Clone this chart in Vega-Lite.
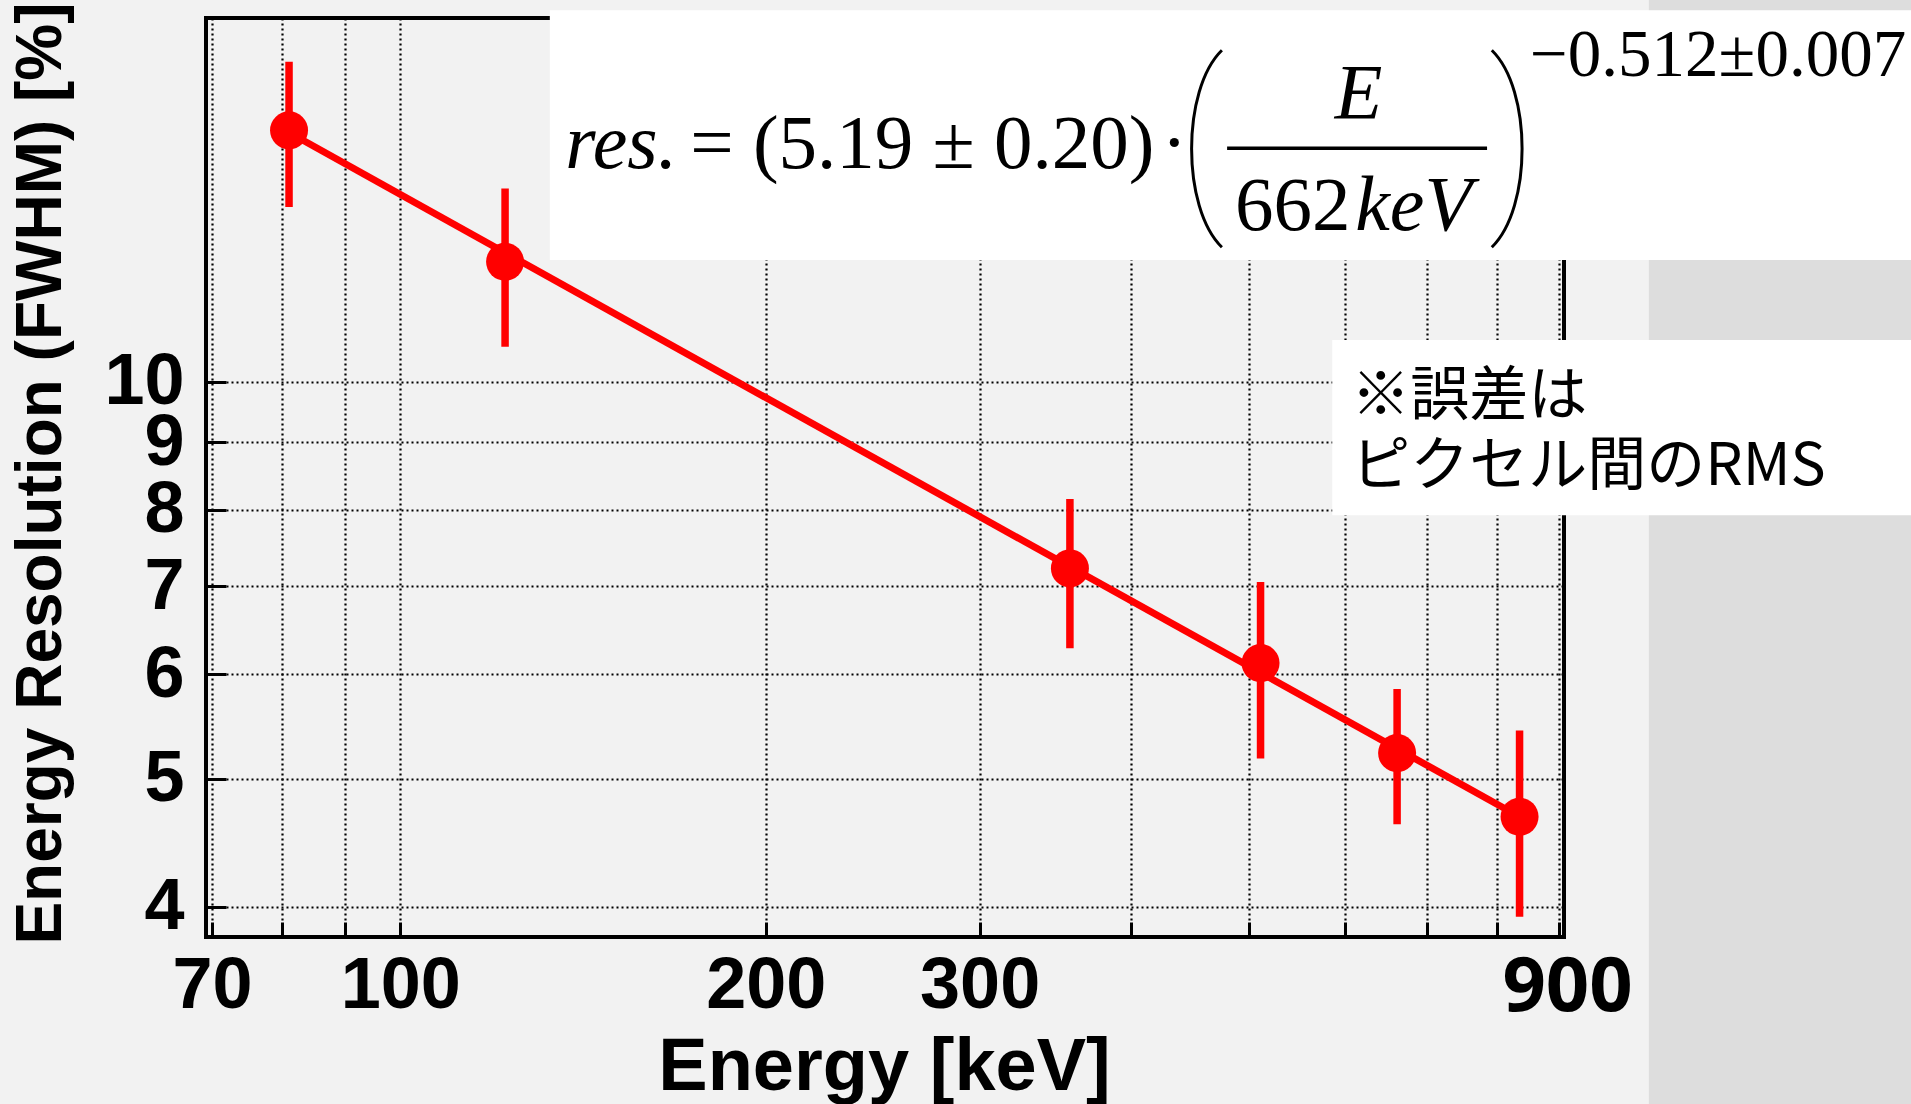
{
  "$schema": "https://vega.github.io/schema/vega-lite/v6.json",
  "width": 1358,
  "height": 919,
  "autosize": {"type": "none"},
  "padding": {"left": 206, "top": 18, "right": 347, "bottom": 167},
  "background": "#f2f2f2",
  "config": {
    "view": {"stroke": "black", "strokeWidth": 4, "fill": null}
  },
  "datasets": {
    "points": [
      {"E": 81, "R": 15.51, "lo": 13.57, "hi": 17.48},
      {"E": 122, "R": 12.33, "lo": 10.63, "hi": 14.01},
      {"E": 356, "R": 7.22, "lo": 6.28, "hi": 8.15},
      {"E": 511, "R": 6.12, "lo": 5.18, "hi": 7.05},
      {"E": 662, "R": 5.23, "lo": 4.62, "hi": 5.85},
      {"E": 835, "R": 4.68, "lo": 3.93, "hi": 5.44}
    ],
    "fit": [
      {"E": 81, "R": 15.45},
      {"E": 835, "R": 4.68}
    ],
    "strip": [{"x1": 1067, "x2": 3000, "y1": 1, "y2": 100}],
    "boxes": [
      {"x1": 132.8, "x2": 3000, "y1": 12.37, "y2": 19.13},
      {"x1": 585.4, "x2": 3000, "y1": 7.923, "y2": 10.755}
    ],
    "serif": [
      {"x": 173.3, "y": 14.52, "t": "= (5.19 ± 0.20)"},
      {"x": 423.6, "y": 14.52, "t": "·"},
      {"x": 486.9, "y": 13.03, "t": "662"}
    ],
    "italic": [
      {"x": 136.75, "y": 14.52, "t": "res."},
      {"x": 588.2, "y": 15.84, "t": "E"},
      {"x": 611.4, "y": 13.03, "t": "keV"}
    ],
    "expo": [{"x": 851.8, "y": 17.05, "t": "−0.512±0.007"}],
    "note": [
      {"x": 606.8, "y": 9.436, "t": "※誤差は"},
      {"x": 606.8, "y": 8.351, "t": "ピクセル間のRMS"}
    ],
    "parens": [
      {"x": 460.9, "y": 15.02, "side": "left"},
      {"x": 816.2, "y": 15.02, "side": "right"}
    ],
    "bar": [{"x1": 479.6, "x2": 785.1, "y": 15.03}]
  },
  "layer": [
    {
      "data": {"name": "strip"},
      "mark": {"type": "rect", "fill": "#dddddd"},
      "encoding": {
        "x": {"field": "x1", "type": "quantitative", "scale": {"type": "log", "domain": [69.2, 908.4], "nice": false, "zero": false},
          "axis": {
            "values": [70, 80, 90, 100, 200, 300, 400, 500, 600, 700, 800, 900],
            "labelExpr": "indexof([70,100,200,300,900], datum.value) >= 0 ? '' + datum.value : ''",
            "labelFont": {"condition": {"test": "datum.value == 900", "value": "Noto Sans"}, "value": "Liberation Sans"},
            "labelFontSize": {"condition": {"test": "datum.value == 900", "value": 76}, "value": 72},
            "labelFontWeight": "bold",
            "labelColor": "black",
            "labelPadding": 28,
            "labelOffset": {"condition": {"test": "datum.value == 900", "value": 8}, "value": 0},
            "labelOverlap": false,
            "labelFlush": false,
            "tickSize": -15,
            "tickWidth": 3,
            "tickColor": "black",
            "domain": false,
            "grid": true,
            "gridDash": [2, 3],
            "gridColor": "#000000",
            "gridWidth": 2.2,
            "title": "Energy [keV]",
            "titleFont": "Liberation Sans",
            "titleFontSize": 74,
            "titleFontWeight": "bold",
            "titleColor": "black",
            "titleX": 678,
            "titleY": 152,
            "titleAlign": "center",
            "titleBaseline": "alphabetic"
          }
        },
        "x2": {"field": "x2"},
        "y": {"field": "y1", "type": "quantitative", "scale": {"type": "log", "domain": [3.794, 18.87], "nice": false, "zero": false},
          "axis": {
            "values": [4, 5, 6, 7, 8, 9, 10],
            "format": "d",
            "labelFont": "Liberation Sans",
            "labelFontSize": 72,
            "labelFontWeight": "bold",
            "labelColor": "black",
            "labelPadding": 42,
            "labelOverlap": false,
            "labelFlush": false,
            "tickSize": -20,
            "tickWidth": 3,
            "tickColor": "black",
            "domain": false,
            "grid": true,
            "gridDash": [2, 3],
            "gridColor": "#000000",
            "gridWidth": 2.2,
            "title": "Energy Resolution (FWHM) [%]",
            "titleFont": "Liberation Sans",
            "titleFontSize": 64,
            "titleFontWeight": "bold",
            "titleColor": "black",
            "titleAngle": -90,
            "titleX": -146,
            "titleY": 455,
            "titleAlign": "center",
            "titleBaseline": "alphabetic"
          }
        },
        "y2": {"field": "y2"}
      }
    },
    {
      "data": {"name": "boxes"},
      "mark": {"type": "rect", "fill": "white"},
      "encoding": {
        "x": {"field": "x1", "type": "quantitative"},
        "x2": {"field": "x2"},
        "y": {"field": "y1", "type": "quantitative"},
        "y2": {"field": "y2"}
      }
    },
    {
      "data": {"name": "points"},
      "mark": {"type": "rule", "color": "#ff0000", "strokeWidth": 7.5},
      "encoding": {
        "x": {"field": "E", "type": "quantitative"},
        "y": {"field": "lo", "type": "quantitative"},
        "y2": {"field": "hi"}
      }
    },
    {
      "data": {"name": "fit"},
      "mark": {"type": "line", "color": "#ff0000", "strokeWidth": 7},
      "encoding": {
        "x": {"field": "E", "type": "quantitative"},
        "y": {"field": "R", "type": "quantitative"}
      }
    },
    {
      "data": {"name": "points"},
      "mark": {"type": "point", "shape": "circle", "filled": true, "color": "#ff0000", "opacity": 1, "size": 1444},
      "encoding": {
        "x": {"field": "E", "type": "quantitative"},
        "y": {"field": "R", "type": "quantitative"}
      }
    },
    {
      "data": {"name": "serif"},
      "mark": {"type": "text", "font": "Liberation Serif", "fontSize": 77, "align": "left", "baseline": "alphabetic", "color": "black"},
      "encoding": {
        "x": {"field": "x", "type": "quantitative"},
        "y": {"field": "y", "type": "quantitative"},
        "text": {"field": "t"}
      }
    },
    {
      "data": {"name": "italic"},
      "mark": {"type": "text", "font": "Liberation Serif", "fontStyle": "italic", "fontSize": 78, "align": "left", "baseline": "alphabetic", "color": "black"},
      "encoding": {
        "x": {"field": "x", "type": "quantitative"},
        "y": {"field": "y", "type": "quantitative"},
        "text": {"field": "t"}
      }
    },
    {
      "data": {"name": "expo"},
      "mark": {"type": "text", "font": "Liberation Serif", "fontSize": 67, "align": "left", "baseline": "alphabetic", "color": "black"},
      "encoding": {
        "x": {"field": "x", "type": "quantitative"},
        "y": {"field": "y", "type": "quantitative"},
        "text": {"field": "t"}
      }
    },
    {
      "data": {"name": "note"},
      "mark": {"type": "text", "font": "Noto Sans CJK JP", "fontSize": 59, "align": "left", "baseline": "alphabetic", "color": "black"},
      "encoding": {
        "x": {"field": "x", "type": "quantitative"},
        "y": {"field": "y", "type": "quantitative"},
        "text": {"field": "t"}
      }
    },
    {
      "data": {"name": "parens"},
      "mark": {"type": "point", "filled": false, "stroke": "black", "strokeWidth": 3, "opacity": 1, "size": 38809},
      "encoding": {
        "x": {"field": "x", "type": "quantitative"},
        "y": {"field": "y", "type": "quantitative"},
        "shape": {"field": "side", "type": "nominal", "legend": null,
          "scale": {"domain": ["left", "right"], "range": ["M 0.16 -1 C -0.25 -0.6 -0.25 0.6 0.16 1", "M -0.16 -1 C 0.25 -0.6 0.25 0.6 -0.16 1"]}}
      }
    },
    {
      "data": {"name": "bar"},
      "mark": {"type": "rule", "color": "black", "strokeWidth": 3.5},
      "encoding": {
        "x": {"field": "x1", "type": "quantitative"},
        "x2": {"field": "x2"},
        "y": {"field": "y", "type": "quantitative"}
      }
    }
  ]
}
